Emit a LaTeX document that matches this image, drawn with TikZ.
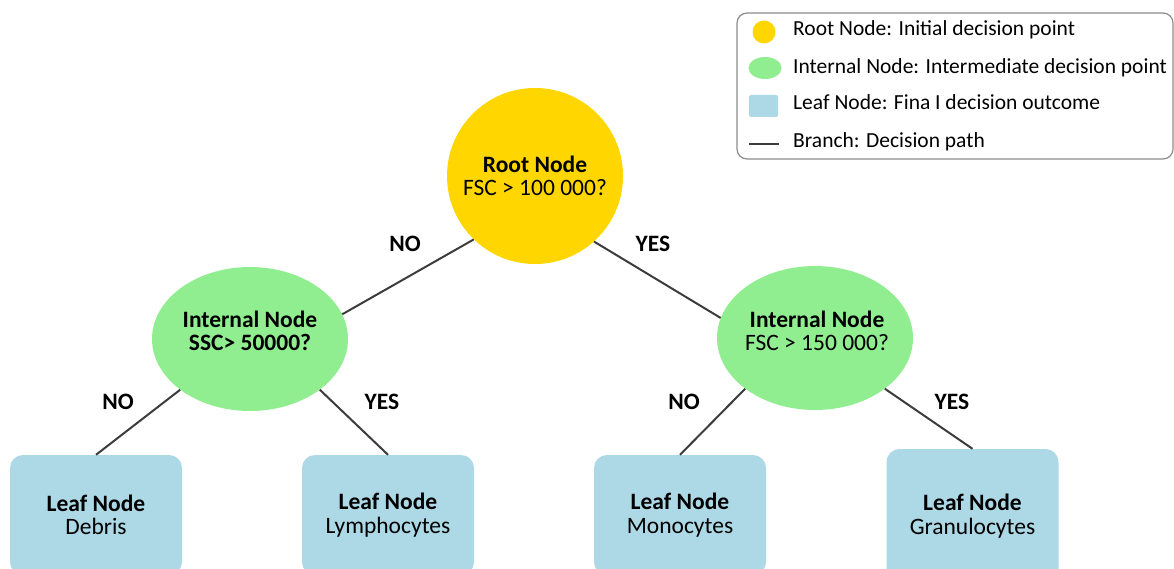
\documentclass[tikz,border=0pt]{standalone}
\usepackage{fontspec}
\setmainfont{Carlito}
\usetikzlibrary{shapes.geometric}
\definecolor{rootc}{RGB}{255,214,0}
\definecolor{intc}{RGB}{144,238,144}
\definecolor{leafc}{RGB}{173,216,230}
\definecolor{edgec}{RGB}{60,60,60}
\definecolor{legc}{RGB}{140,140,140}
\begin{document}
\begin{tikzpicture}[x=1pt,y=-1pt,
  txt/.style={font=\fontsize{23.5}{23.5}\selectfont},
  legfont/.style={font=\fontsize{21.5}{22}\selectfont},
  rootnode/.style={circle, fill=rootc, minimum size=176pt, inner sep=0pt, align=center, txt},
  intnode/.style={ellipse, fill=intc, minimum width=196pt, minimum height=144pt, inner sep=0pt},
  inttext/.style={align=center, inner sep=0pt, txt},
  leafnode/.style={rectangle, rounded corners=13pt, fill=leafc, minimum width=172pt, minimum height=120pt, inner sep=0pt, align=center, txt},
  branch/.style={draw=edgec, line width=2pt},
  lab/.style={inner sep=0pt, font=\fontsize{23.5}{24}\selectfont\bfseries},
  legtext/.style={legfont, anchor=base west, inner sep=0pt},
]
\clip (0,0) rectangle (1174,569);

% tree nodes
\node[rootnode] (root) at (535,176) {\textbf{Root Node}\\FSC > 100 000?};
\node[intnode] (int1) at (250,339) {};
\node[inttext] (int1t) at (250,331) {\textbf{Internal Node}\\\textbf{SSC> 50000?}};
\node[intnode] (int2) at (815,338) {};
\node[inttext] (int2t) at (817,331) {\textbf{Internal Node}\\FSC > 150 000?};

\node[leafnode] (debris) at (96,515) {\textbf{Leaf Node}\\Debris};
\node[leafnode] (lympho) at (388,515) {\textbf{Leaf Node}\\Lymphocytes};
\node[leafnode] (mono) at (680,515) {\textbf{Leaf Node}\\Monocytes};
\node[leafnode, minimum height=134pt] (gran) at (972.5,516) {\textbf{Leaf Node}\\Granulocytes};

% branches
\draw[branch] (root.226) -- (int1.15);
\draw[branch] (root.-48) -- (int2.168);
\draw[branch] (int1.216) -- (debris.north);
\draw[branch] (int1.324) -- (lympho.north);
\draw[branch] (int2.216) -- (mono.north);
\draw[branch] (int2.324) -- (gran.north);

% branch labels
\node[lab] (l1) at (405,244) {NO};
\node[lab] (l2) at (653,244) {YES};
\node[lab] (l3) at (118,402) {NO};
\node[lab] (l4) at (382,402) {YES};
\node[lab] (l5) at (684,402) {NO};
\node[lab] (l6) at (952,402) {YES};

% legend
\node[draw=legc, line width=1.2pt, rounded corners=10pt, fill=white,
      minimum width=436pt, minimum height=146pt, inner sep=0pt] (legend) at (955,86) {};
\node[circle, fill=rootc, minimum size=23pt, inner sep=0pt] (lg1) at (764,32) {};
\node[ellipse, fill=intc, minimum width=33pt, minimum height=22pt, inner sep=0pt] (lg2) at (765,68) {};
\node[rectangle, fill=leafc, rounded corners=2pt, minimum width=29pt, minimum height=22pt, inner sep=0pt] (lg3) at (763.5,106) {};
\coordinate (lg4a) at (749,144);
\coordinate (lg4b) at (779,144);
\draw[branch] (lg4a) -- (lg4b);
\node[legtext] (lt1) at (793,36) {Root Node: Initial decision point};
\node[legtext] (lt2) at (793,74) {Internal Node: Intermediate decision point};
\node[legtext] (lt3) at (793,110) {Leaf Node: Fina I decision outcome};
\node[legtext] (lt4) at (793,148) {Branch: Decision path};
\end{tikzpicture}
\end{document}
